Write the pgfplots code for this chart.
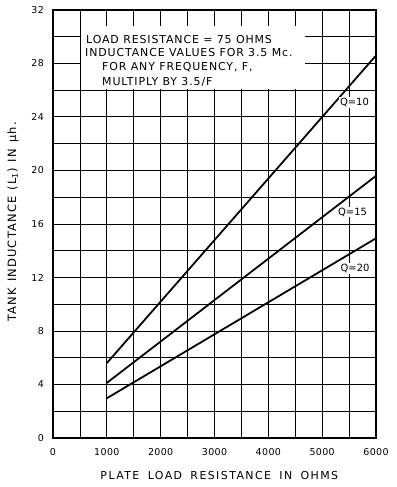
\documentclass[border=0pt]{standalone}
\usepackage{pgfplots}
\pgfplotsset{compat=1.18}
\usepackage{fontspec}
\setmainfont{DejaVu Sans}
\newfontfamily\boxfont[LetterSpace=8]{DejaVu Sans}
\newfontfamily\labfont[LetterSpace=13,WordSpace=1.7]{DejaVu Sans}
\newfontfamily\ylabfont[LetterSpace=10,WordSpace=1.3]{DejaVu Sans}
\newfontfamily\tickfont[LetterSpace=4]{DejaVu Sans}
\begin{document}
\begin{tikzpicture}
\begin{axis}[
  scale only axis,
  width=323bp, height=428bp,
  xmin=0, xmax=6000, ymin=0, ymax=32,
  xtick={0,1000,...,6000},
  minor xtick={500,1500,...,5500},
  ytick={0,4,...,32},
  minor ytick={2,6,...,30},
  grid=both,
  major grid style={line width=1.0pt, black},
  minor grid style={line width=0.8pt, black},
  major tick length=0pt, minor tick length=0pt,
  axis line style={line width=1.4pt},
  scaled ticks=false,
  /pgf/number format/assume math mode=true,
  /pgf/number format/set thousands separator={},
  tick label style={font=\fontsize{9.5}{10}\tickfont},
  xticklabel style={anchor=center, yshift=-14bp},
  yticklabel style={anchor=east, inner sep=0pt, xshift=-9bp},
  xlabel={\labfont PLATE LOAD RESISTANCE IN OHMS},
  ylabel={\ylabfont TANK INDUCTANCE (L\textsubscript{1}) IN μh.},
  every axis x label/.style={at={(axis description cs:0.515,0)}, anchor=center, yshift=-38bp, font=\fontsize{11}{12}\selectfont},
  every axis y label/.style={at={(axis description cs:0,0.505)}, anchor=center, xshift=-40bp, rotate=90, font=\fontsize{11.5}{12}\selectfont},
]
\fill[white] (axis cs:512,26.08) rectangle (axis cs:4680,30.8);
\addplot[black, line width=1.8pt] coordinates {(1000,5.6) (6000,28.6)};
\addplot[black, line width=1.8pt] coordinates {(1000,4.12) (6000,19.6)};
\addplot[black, line width=1.8pt] coordinates {(1000,2.97) (6000,14.93)};
\node[fill=white, inner sep=1pt, font=\fontsize{10}{12}\selectfont] at (axis cs:5600,25.07) {Q=10};
\node[fill=white, inner sep=1pt, font=\fontsize{10}{12}\selectfont] at (axis cs:5564,16.9) {Q=15};
\node[fill=white, inner sep=1pt, font=\fontsize{10}{12}\selectfont] at (axis cs:5610,12.69) {Q=20};
\node[anchor=base west, inner sep=0pt, font=\fontsize{11}{12}\selectfont] at (axis cs:613,29.53) {\boxfont LOAD RESISTANCE = 75 OHMS};
\node[anchor=base west, inner sep=0pt, font=\fontsize{11}{12}\selectfont] at (axis cs:594,28.49) {\boxfont INDUCTANCE VALUES FOR 3.5 Mc.};
\node[anchor=base west, inner sep=0pt, font=\fontsize{11}{12}\selectfont] at (axis cs:910,27.44) {\boxfont FOR ANY FREQUENCY, F,};
\node[anchor=base west, inner sep=0pt, font=\fontsize{11}{12}\selectfont] at (axis cs:910,26.39) {\boxfont MULTIPLY BY 3.5/F};
\end{axis}
\path ([shift={(-53bp,-49bp)}]current axis.south west) rectangle ([shift={(21bp,10bp)}]current axis.north east);
\end{tikzpicture}
\end{document}
